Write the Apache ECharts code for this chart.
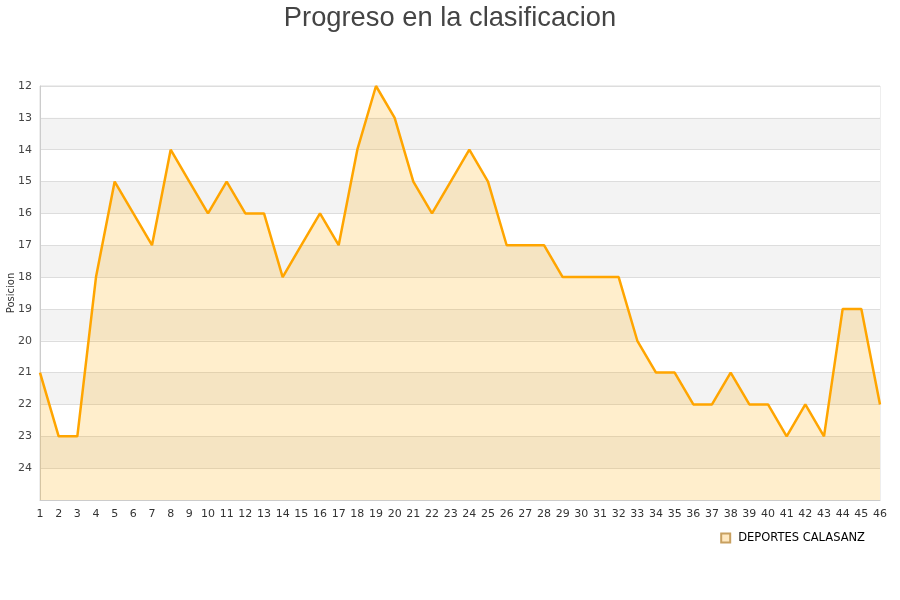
<!DOCTYPE html>
<html><head><meta charset="utf-8">
<script src="https://cdn.jsdelivr.net/npm/echarts@6/dist/echarts.min.js"></script>
<style>html,body{margin:0;padding:0;background:#fff}#c{width:900px;height:600px}</style>
</head><body><div id="c"></div>
<script>
const jornadas = ['1','2','3','4','5','6','7','8','9','10','11','12','13','14','15','16','17','18','19','20','21','22','23','24','25','26','27','28','29','30','31','32','33','34','35','36','37','38','39','40','41','42','43','44','45','46'];
const posiciones = [21,23,23,18,15,16,17,14,15,16,15,16,16,18,17,16,17,14,12,13,15,16,15,14,15,17,17,17,18,18,18,18,20,21,21,22,22,21,22,22,23,22,23,19,19,22];
const teamName = 'DEPORTES CALASANZ';
const yTicks = [12,13,14,15,16,17,18,19,20,21,22,23,24];

const chart = echarts.init(document.getElementById('c'), null, {renderer:'canvas'});
chart.setOption({
  animation: false,
  title: {
    text: 'Progreso en la clasificacion', left: 'center', top: 0,
    textStyle: {fontFamily: 'Liberation Sans', fontSize: 27.3, fontWeight: 'normal', color: '#444'}
  },
  legend: {
    data: [teamName], right: 30, top: 527, itemWidth: 9, itemHeight: 9, itemGap: 10,
    icon: 'rect',
    textStyle: {fontFamily: 'DejaVu Sans', fontSize: 11.5, color: '#000', padding: [0, 0, 0, 3]}
  },
  grid: {left: 40, right: 20, top: 86, bottom: 100, show: true, borderColor: '#ddd', borderWidth: 1,
    outerBoundsMode: 'none', containLabel: false},
  xAxis: {
    type: 'category', data: jornadas, boundaryGap: false,
    axisLine: {lineStyle: {color: '#ccc'}},
    axisTick: {show: false},
    axisLabel: {fontFamily: 'DejaVu Sans', fontSize: 11, color: '#333', interval: 0, margin: 9},
    splitLine: {show: false}
  },
  yAxis: {
    type: 'value', inverse: true, min: 12, max: 25, interval: 1,
    name: 'Posicion', nameLocation: 'middle', nameGap: 29, nameRotate: 90, nameMoveOverlap: false,
    nameTextStyle: {fontFamily: 'DejaVu Sans', fontSize: 10, color: '#333', verticalAlign: 'middle'},
    axisLine: {show: true, lineStyle: {color: '#ccc'}},
    axisTick: {show: false},
    axisLabel: {fontFamily: 'DejaVu Sans', fontSize: 11, color: '#444', margin: 8,
      formatter: v => yTicks.includes(v) ? String(v) : ''},
    splitLine: {show: true, lineStyle: {color: '#ddd'}},
    splitArea: {show: true, areaStyle: {color: ['#ffffff', '#f3f3f3']}}
  },
  series: [{
    name: teamName, type: 'line', data: posiciones,
    symbol: 'none', showSymbol: false,
    lineStyle: {color: '#ffa500', width: 2.5},
    itemStyle: {color: '#ffe8c0', borderColor: '#c8a060', borderWidth: 1},
    areaStyle: {color: 'rgba(255,170,0,0.2)', opacity: 1, origin: 'end'}
  }]
});
</script></body></html>
